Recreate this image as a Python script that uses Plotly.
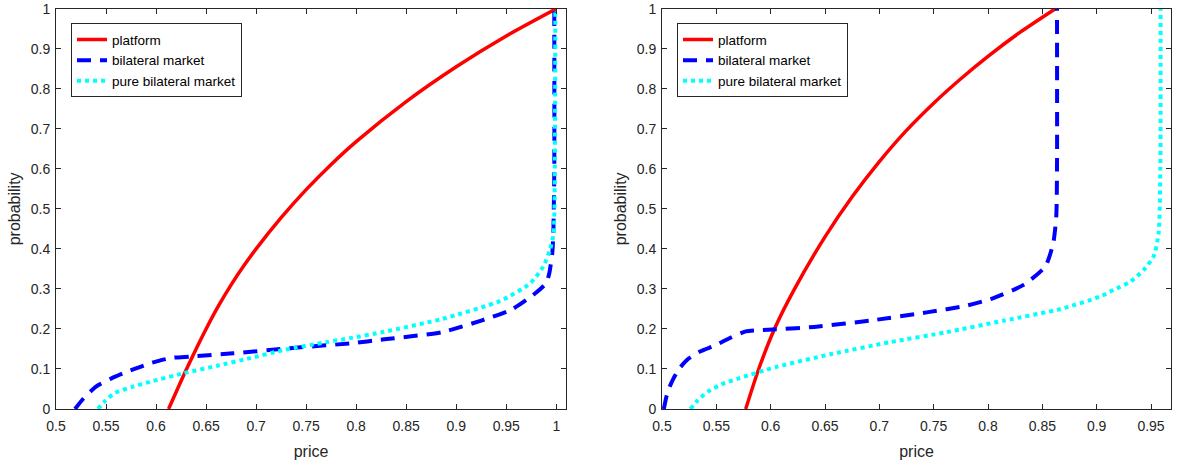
import plotly.graph_objects as go

# ---------------- data: left panel ----------------
L_platform_x = [0.6125, 0.625, 0.6375, 0.65, 0.6625, 0.675, 0.6875, 0.7, 0.725, 0.75, 0.775, 0.8,
                0.85, 0.9, 0.95, 1.0]
L_platform_y = [0, 0.07, 0.137, 0.2, 0.258, 0.31, 0.357, 0.4, 0.478, 0.548, 0.611, 0.668,
                0.768, 0.855, 0.932, 1.0]

L_bilateral_x = [0.519, 0.527, 0.540, 0.555, 0.571, 0.585, 0.594, 0.605, 0.617, 0.634, 0.677, 0.734,
                 0.794, 0.828, 0.886, 0.925, 0.955, 0.979, 0.990, 0.993, 0.996, 0.997, 0.998, 0.998]
L_bilateral_y = [0, 0.025, 0.056, 0.076, 0.093, 0.106, 0.114, 0.122, 0.128, 0.131, 0.139, 0.152,
                 0.164, 0.174, 0.192, 0.221, 0.248, 0.289, 0.315, 0.339, 0.39, 0.435, 0.6, 1.0]

L_pure_x = [0.542, 0.549, 0.559, 0.577, 0.594, 0.627, 0.661, 0.694, 0.727, 0.770, 0.794, 0.828,
            0.886, 0.944, 0.974, 0.987, 0.994, 0.9973, 0.9985, 0.999]
L_pure_y = [0, 0.02, 0.04, 0.056, 0.068, 0.089, 0.108, 0.127, 0.147, 0.167, 0.177, 0.193,
            0.225, 0.270, 0.314, 0.356, 0.40, 0.439, 0.6, 1.0]

# ---------------- data: right panel ----------------
R_platform_x = [0.577, 0.589, 0.6035, 0.622, 0.65, 0.675, 0.7, 0.725, 0.75, 0.775, 0.8, 0.83, 0.862]
R_platform_y = [0, 0.1, 0.2, 0.3, 0.43, 0.53, 0.618, 0.696, 0.764, 0.825, 0.881, 0.942, 1.0]

R_bilateral_x = [0.5017, 0.504, 0.507, 0.5105, 0.5165, 0.5245, 0.536, 0.549, 0.563, 0.577, 0.59,
                 0.605, 0.640, 0.692, 0.745, 0.780, 0.805, 0.8327, 0.8527, 0.860, 0.8628, 0.8635, 0.8635]
R_bilateral_y = [0, 0.03, 0.055, 0.076, 0.103, 0.126, 0.145, 0.159, 0.178, 0.194, 0.197,
                 0.199, 0.205, 0.221, 0.242, 0.258, 0.277, 0.31, 0.356, 0.414, 0.481, 0.6, 1.0]

R_pure_x = [0.5262, 0.533, 0.542, 0.555, 0.570, 0.605, 0.657, 0.710, 0.762, 0.815, 0.867, 0.9033,
            0.9156, 0.931, 0.9432, 0.9524, 0.957, 0.9586, 0.9588]
R_pure_y = [0, 0.022, 0.043, 0.062, 0.076, 0.105, 0.138, 0.167, 0.192, 0.221, 0.25, 0.281,
            0.2975, 0.318, 0.3475, 0.381, 0.439, 0.6, 1.0]

names = ["platform", "bilateral market", "pure bilateral market"]
L_xticks = [0.5, 0.55, 0.6, 0.65, 0.7, 0.75, 0.8, 0.85, 0.9, 0.95, 1.0]
L_xlabels = ["0.5", "0.55", "0.6", "0.65", "0.7", "0.75", "0.8", "0.85", "0.9", "0.95", "1"]
R_xticks = [0.5, 0.55, 0.6, 0.65, 0.7, 0.75, 0.8, 0.85, 0.9, 0.95]
R_xlabels = ["0.5", "0.55", "0.6", "0.65", "0.7", "0.75", "0.8", "0.85", "0.9", "0.95"]
yticks = [0, 0.1, 0.2, 0.3, 0.4, 0.5, 0.6, 0.7, 0.8, 0.9, 1.0]
ylabels = ["0", "0.1", "0.2", "0.3", "0.4", "0.5", "0.6", "0.7", "0.8", "0.9", "1"]

RED, BLUE, CYAN = "#FF0000", "#0000FF", "#00FFFF"
AXC = "#262626"
FONT = "Liberation Sans, Arial, sans-serif"

fig = go.Figure()

def add_panel(xa, ya, leg, px, py, bx, by, cx, cy):
    fig.add_trace(go.Scatter(x=px, y=py, mode="lines", name=names[0], xaxis=xa, yaxis=ya, legend=leg,
                             line=dict(color=RED, width=3.5, shape="spline", smoothing=0.6)))
    fig.add_trace(go.Scatter(x=bx, y=by, mode="lines", name=names[1], xaxis=xa, yaxis=ya, legend=leg,
                             line=dict(color=BLUE, width=4, dash="14px,9px", shape="spline", smoothing=0.6)))
    fig.add_trace(go.Scatter(x=cx, y=cy, mode="lines", name=names[2], xaxis=xa, yaxis=ya, legend=leg,
                             line=dict(color=CYAN, width=4, dash="4px,4px", shape="spline", smoothing=0.6)))

add_panel("x", "y", "legend", L_platform_x, L_platform_y, L_bilateral_x, L_bilateral_y, L_pure_x, L_pure_y)
add_panel("x2", "y2", "legend2", R_platform_x, R_platform_y, R_bilateral_x, R_bilateral_y, R_pure_x, R_pure_y)

ax_common = dict(showline=True, linecolor=AXC, linewidth=1, mirror="ticks", ticks="inside",
                 ticklen=5, tickcolor=AXC, showgrid=False, zeroline=False, automargin=False,
                 tickfont=dict(family=FONT, size=14, color=AXC))

xtitle = dict(text="price", font=dict(family=FONT, size=16, color=AXC), standoff=13)
ytitle = dict(text="probability", font=dict(family=FONT, size=16, color=AXC), standoff=6)

W, H = 1182, 465
yd = [1 - 409 / H, 1 - 8.7 / H]
leg_common = dict(y=1 - 23.3 / H, xanchor="left", yanchor="top", bgcolor="white",
                  bordercolor=AXC, borderwidth=1, font=dict(family=FONT, size=13.5, color="black"),
                  tracegroupgap=0, itemwidth=30)
fig.update_layout(
    width=W, height=H,
    margin=dict(l=0, r=0, t=0, b=0),
    paper_bgcolor="white", plot_bgcolor="white",
    font=dict(family=FONT, color=AXC),
    xaxis=dict(domain=[56 / W, 566 / W], range=[0.5, 1.0097], tickvals=L_xticks, ticktext=L_xlabels,
               title=xtitle, anchor="y", ticklabelstandoff=4, **ax_common),
    yaxis=dict(domain=yd, range=[0, 1], tickvals=yticks, ticktext=ylabels,
               title=ytitle, anchor="x", ticklabelstandoff=2, **ax_common),
    xaxis2=dict(domain=[662 / W, 1171 / W], range=[0.5, 0.9684], tickvals=R_xticks, ticktext=R_xlabels,
                title=xtitle, anchor="y2", ticklabelstandoff=4, **ax_common),
    yaxis2=dict(domain=yd, range=[0, 1], tickvals=yticks, ticktext=ylabels,
                title=ytitle, anchor="x2", ticklabelstandoff=2, **ax_common),
    legend=dict(x=71 / W, **leg_common),
    legend2=dict(x=677 / W, **leg_common),
)

fig.write_html("out.html", config={"displayModeBar": False},
               post_script="document.body.style.margin='0px';document.body.style.overflow='hidden';")
